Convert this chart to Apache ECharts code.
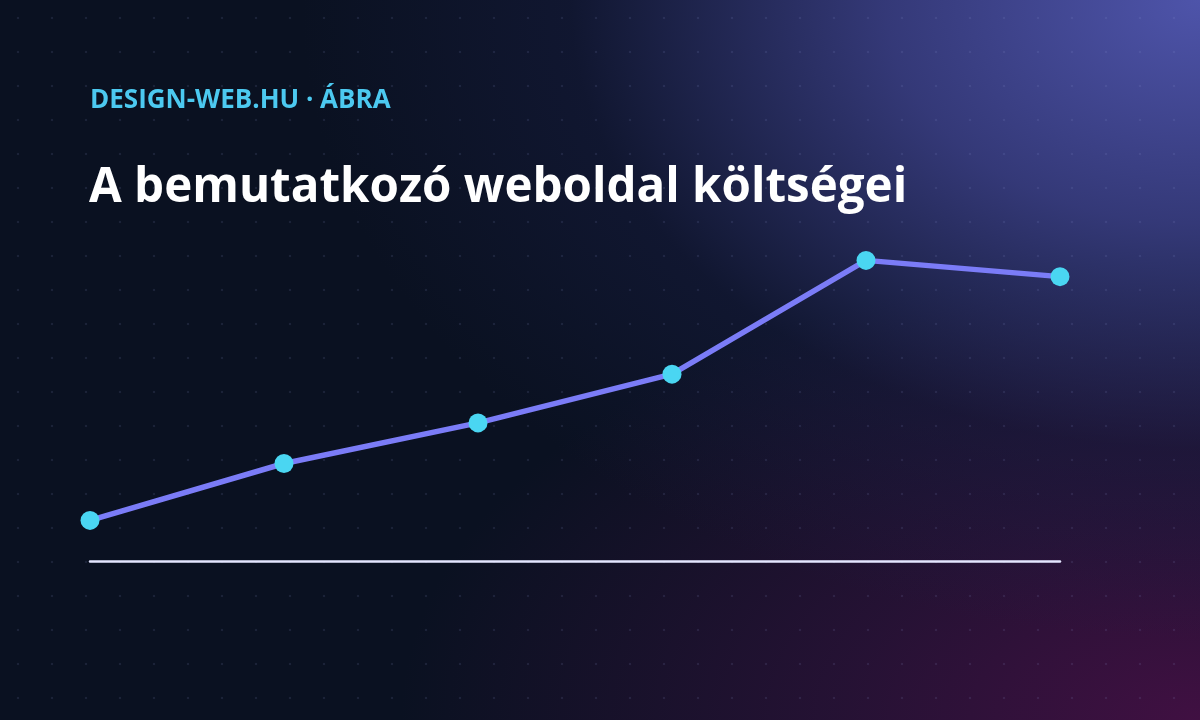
<!DOCTYPE html>
<html>
<head>
<meta charset="utf-8">
<title>A bemutatkozó weboldal költségei</title>
<script src="https://cdn.jsdelivr.net/npm/echarts@6/dist/echarts.min.js"></script>
<style>
    html, body {
        margin: 0;
        padding: 0;
        width: 1200px;
        height: 720px;
        overflow: hidden;
    }
    #chart {
        width: 1200px;
        height: 720px;
        background-color: #0a1121;
        background-image:
            radial-gradient(circle, rgba(150, 160, 220, 0.12) 1px, transparent 1.6px),
            radial-gradient(ellipse 900px 640px at 1200px 0px, rgba(78, 84, 170, 1) 0%, rgba(64, 68, 144, 0.78) 35%, rgba(30, 34, 80, 0.32) 70%, rgba(20, 24, 60, 0) 100%),
            radial-gradient(ellipse 800px 460px at 1200px 720px, rgba(64, 16, 66, 1) 0%, rgba(52, 18, 62, 0.65) 45%, rgba(20, 14, 40, 0) 100%);
        background-size: 34px 34px, 100% 100%, 100% 100%;
        background-position: 1px 1px, 0 0, 0 0;
    }
</style>
</head>
<body>
<div id="chart"></div>
<script>
var categories = ['Domain', 'Tárhely', 'Design', 'Fejlesztés', 'Tartalom', 'Karbantartás'];
var costValues = [50, 120, 170, 230, 370, 350];

var costChart = echarts.init(document.getElementById('chart'));

var option = {
    backgroundColor: 'transparent',
    title: [
        {
            text: 'DESIGN-WEB.HU · ÁBRA',
            left: 90,
            top: 88,
            padding: 0,
            textStyle: {
                color: '#4cc9f0',
                fontFamily: 'Open Sans',
                fontWeight: 'bold',
                fontSize: 26
            }
        },
        {
            text: 'A bemutatkozó weboldal költségei',
            left: 89,
            top: 164,
            padding: 0,
            textStyle: {
                color: '#ffffff',
                fontFamily: 'Open Sans',
                fontWeight: 'bold',
                fontSize: 47.5
            }
        }
    ],
    grid: {
        left: 90,
        right: 140,
        top: 236,
        bottom: 159
    },
    xAxis: {
        type: 'category',
        data: categories,
        boundaryGap: false,
        axisLine: {
            lineStyle: {
                color: '#e4e6ff',
                width: 2.5
            }
        },
        axisTick: { show: false },
        axisLabel: { show: false },
        splitLine: { show: false }
    },
    yAxis: {
        type: 'value',
        min: 0,
        max: 400,
        axisLine: { show: false },
        axisTick: { show: false },
        axisLabel: { show: false },
        splitLine: { show: false }
    },
    series: [
        {
            name: 'Költség',
            type: 'line',
            data: costValues,
            symbol: 'circle',
            symbolSize: 19,
            lineStyle: {
                color: '#7b7cf7',
                width: 5.5
            },
            itemStyle: {
                color: '#4ad6f2'
            },
            z: 3
        }
    ]
};

costChart.setOption(option);
</script>
</body>
</html>
